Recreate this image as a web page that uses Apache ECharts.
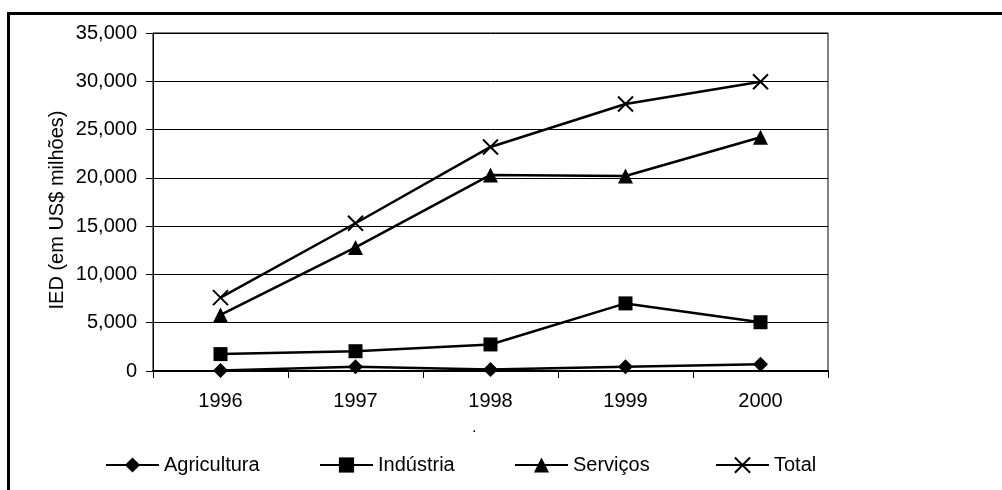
<!DOCTYPE html>
<html>
<head>
<meta charset="utf-8">
<script src="https://cdn.jsdelivr.net/npm/echarts@6/dist/echarts.min.js"></script>
<style>
html,body{margin:0;padding:0;background:#fff;}
#chart{width:1002px;height:490px;}
</style>
</head>
<body>
<div id="chart"></div>
<script>
const categories = ['1996', '1997', '1998', '1999', '2000'];
const agricultura = [50, 450, 150, 450, 700];
const industria = [1750, 2050, 2750, 7000, 5050];
const servicos = [5800, 12800, 20300, 20200, 24200];
const total = [7600, 15300, 23200, 27650, 29950];
const seriesNames = ['Agricultura', 'Indústria', 'Serviços', 'Total'];
const yAxisTitle = 'IED (em US$ milhões)';

const FONT = "'Liberation Sans', Arial, sans-serif";
const chart = echarts.init(document.getElementById('chart'), null, {renderer: 'canvas'});

const crossPath = 'path://M0,0L10,10M10,0L0,10';

function mkSeries(name, data, symbol, size, extra) {
  return Object.assign({
    name: name,
    type: 'line',
    data: data,
    symbol: symbol,
    symbolSize: size,
    showAllSymbol: true,
    lineStyle: {color: '#000', width: 2.5},
    itemStyle: {color: '#000'},
    emphasis: {disabled: true},
    animation: false,
    z: 3
  }, extra || {});
}

const legendLefts = [105, 319, 514, 715];

const option = {
  backgroundColor: '#fff',
  animation: false,
  textStyle: {fontFamily: FONT},
  grid: {
    left: 153, right: 174, top: 33, bottom: 119,
    show: true, borderColor: '#000', borderWidth: 1, backgroundColor: 'transparent'
  },
  legend: seriesNames.map((n, i) => ({
    data: [n],
    left: legendLefts[i],
    top: 455,
    padding: 0,
    itemWidth: 53,
    itemHeight: 19,
    itemGap: 0,
    selectedMode: false,
    textStyle: {fontFamily: FONT, fontSize: 20, color: '#000'}
  })),
  xAxis: {
    type: 'category',
    data: categories,
    boundaryGap: true,
    axisLine: {show: true, lineStyle: {color: '#000', width: 2}},
    axisTick: {show: true, inside: false, length: 7, lineStyle: {color: '#000', width: 1}},
    axisLabel: {fontFamily: FONT, fontSize: 20, color: '#000', margin: 20},
    splitLine: {show: false}
  },
  yAxis: {
    type: 'value',
    min: 0, max: 35000, interval: 5000,
    axisLine: {show: true, lineStyle: {color: '#000', width: 1}},
    axisTick: {show: true, inside: false, length: 7, lineStyle: {color: '#000', width: 1}},
    axisLabel: {
      fontFamily: FONT, fontSize: 20, color: '#000', margin: 16,
      formatter: v => Number(v).toLocaleString('en-US')
    },
    splitLine: {show: true, lineStyle: {color: '#000', width: 1}}
  },
  graphic: [
    {
      type: 'rect',
      shape: {x: 8.5, y: 13.5, width: 1200, height: 700},
      style: {fill: 'none', stroke: '#000', lineWidth: 3},
      silent: true, z: 10
    },
    {
      type: 'text',
      x: 57, y: 210,
      rotation: Math.PI / 2,
      style: {
        text: yAxisTitle, fontFamily: FONT, fontSize: 20, fill: '#000',
        align: 'center', verticalAlign: 'middle'
      },
      silent: true
    },
    {
      type: 'text',
      left: 472, top: 420,
      style: {text: '.', fontFamily: FONT, fontSize: 16, fill: '#000'},
      silent: true
    }
  ],
  series: [
    mkSeries('Agricultura', agricultura, 'diamond', 15),
    mkSeries('Indústria', industria, 'rect', 14),
    mkSeries('Serviços', servicos, 'triangle', 15),
    mkSeries('Total', total, crossPath, 15, {
      itemStyle: {color: 'none', borderColor: '#000', borderWidth: 2}
    })
  ]
};
chart.setOption(option);
</script>
</body>
</html>
